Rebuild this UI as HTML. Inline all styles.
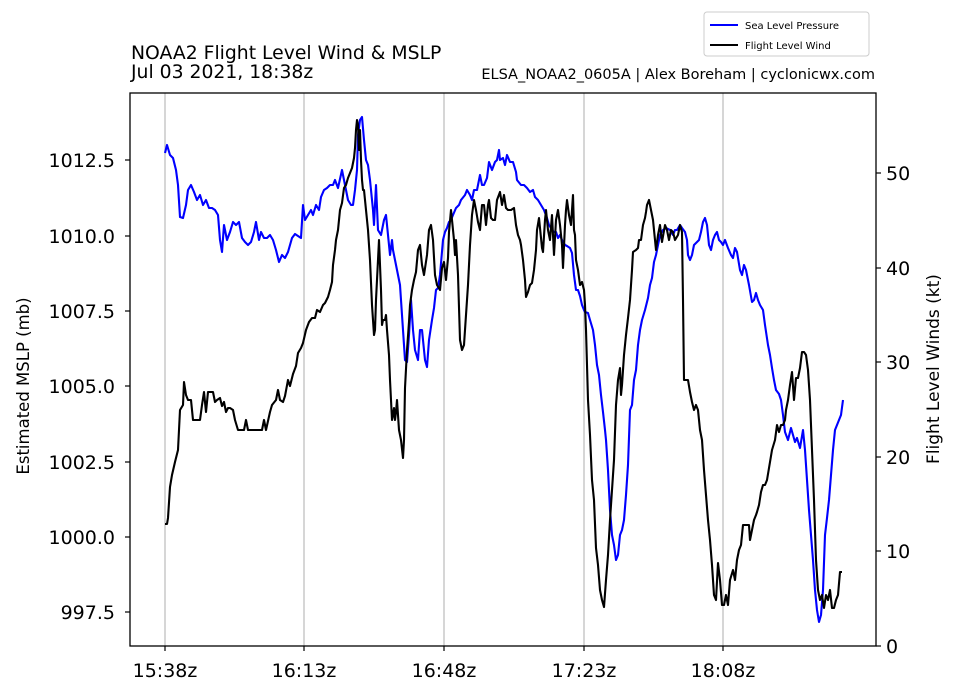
<!DOCTYPE html>
<html><head><meta charset="utf-8"><style>
html,body{margin:0;padding:0;background:#fff;}
svg{display:block;font-family:"DejaVu Sans","Liberation Sans",sans-serif;}
</style></head><body>
<svg width="959" height="697" viewBox="0 0 959 697" xmlns="http://www.w3.org/2000/svg">
<rect width="959" height="697" fill="#fff"/>
<g stroke="#bfbfbf" stroke-width="1.3">
<line x1="165" y1="93" x2="165" y2="646"/>
<line x1="304" y1="93" x2="304" y2="646"/>
<line x1="444" y1="93" x2="444" y2="646"/>
<line x1="584" y1="93" x2="584" y2="646"/>
<line x1="723" y1="93" x2="723" y2="646"/>
</g>
<polyline fill="none" stroke="#0000ff" stroke-width="2.1" stroke-linejoin="round" points="165,153 167,145 170,155 173,158 176,170 178,185 180,217 183,218 186,205 188,190 191,185 194,192 197,200 200,195 203,205 206,200 209,208 212,208 215,210 218,215 220,240 222,252 224,225 227,240 230,232 233,222 236,225 239,222 242,238 245,242 248,245 251,242 254,232 256,222 259,240 261,232 264,238 267,238 270,235 273,240 276,250 279,262 282,255 285,258 288,252 292,238 295,234 298,236 301,238 303,205 305,220 308,215 311,210 313,215 316,205 319,210 321,197 324,190 327,188 330,185 333,185 335,180 338,188 342,170 345,185 348,200 351,205 353,205 355,190 357,170 358,135 360,120 362,117 364,140 366,160 368,165 370,180 373,210 374,225 376,185 378,230 381,235 384,220 386,215 388,235 390,255 392,240 393,250 395,260 397,270 400,285 401,300 403,330 405,360 407,362 409,335 411,300 413,330 415,350 418,360 420,330 422,330 425,360 427,367 429,340 432,320 434,308 436,290 438,288 440,275 443,240 445,232 447,228 449,222 451,220 453,215 456,208 459,205 461,200 465,195 467,190 470,195 472,200 474,190 477,190 480,175 482,185 484,185 487,178 489,162 492,170 495,162 497,160 499,150 500,160 503,158 505,165 507,155 510,162 513,162 516,172 517,180 521,185 524,185 527,188 530,192 533,190 535,197 538,200 541,205 544,210 547,218 549,225 551,228 552,230 554,232 556,232 558,238 560,235 562,240 565,245 567,246 570,248 572,253 574,275 576,290 578,290 580,296 582,305 584,310 585,312 588,313 590,320 593,330 595,345 597,365 599,375 601,395 603,412 605,430 606,440 608,470 610,510 612,535 614,545 616,560 618,555 620,535 622,530 624,520 626,495 628,465 630,410 632,405 634,380 636,370 638,345 640,330 642,320 645,310 648,298 650,285 652,278 654,262 656,255 658,245 660,235 663,230 666,228 670,230 673,235 675,230 677,230 680,225 682,228 685,232 687,240 688,255 690,260 692,255 694,245 697,242 699,240 701,232 703,222 705,218 707,225 709,245 711,250 713,240 715,235 717,232 719,240 721,242 723,245 725,240 728,248 731,255 733,258 735,248 737,252 740,270 742,275 744,265 746,270 749,285 752,302 754,300 756,293 758,300 760,305 763,310 765,325 768,345 770,355 772,368 774,380 776,390 779,394 781,400 783,415 785,432 788,440 791,428 793,435 795,442 797,438 800,448 803,430 805,450 807,480 809,510 811,535 813,560 815,590 817,610 819,622 821,615 823,590 825,535 827,518 829,500 831,475 833,450 835,430 837,425 839,420 841,415 843,400"/>
<polyline fill="none" stroke="#000" stroke-width="2.1" stroke-linejoin="round" points="165,524 167,524 168,518 170,487 172,475 175,462 178,450 180,410 183,405 184,382 186,395 188,400 191,400 193,420 198,420 200,420 202,405 204,392 206,412 208,392 210,392 213,392 215,402 217,400 220,398 222,406 224,402 226,412 228,408 230,408 233,410 235,420 238,430 241,430 244,430 246,420 248,430 253,430 258,430 262,430 264,420 266,430 270,412 272,405 276,400 278,390 280,400 283,402 285,396 288,380 290,386 293,374 296,366 298,353 301,348 303,343 306,330 309,322 312,318 315,318 317,310 320,312 323,305 325,303 328,297 330,290 332,282 333,265 335,250 336,240 338,230 340,210 342,203 344,188 346,185 348,178 350,173 352,168 354,158 355,148 356,130 357,120 358,125 359,150 360,130 361,160 362,180 363,190 364,190 366,210 368,230 370,260 372,305 374,335 375,330 376,300 378,260 379,240 381,290 382,325 383,320 385,320 386,315 387,330 389,355 390,380 392,420 393,415 394,408 395,420 396,412 397,400 399,430 401,440 403,458 404,440 405,388 407,350 409,322 410,305 412,290 414,280 416,272 418,250 420,245 422,265 424,275 427,255 429,230 431,225 433,240 435,275 437,285 440,290 442,268 444,262 446,280 448,258 449,232 451,210 453,230 454,240 455,255 456,240 458,275 460,340 462,350 464,345 466,315 468,285 470,245 472,215 474,200 476,210 478,222 480,230 482,205 484,205 486,225 488,205 489,200 491,218 493,220 495,220 497,200 500,192 502,205 504,195 506,208 508,210 511,210 514,208 516,225 518,235 520,240 521,245 523,260 525,280 526,297 528,292 530,285 532,283 534,270 536,250 537,230 539,218 540,228 542,248 543,252 545,220 546,210 548,230 550,240 552,215 554,255 556,220 558,210 560,225 562,245 563,268 565,225 566,210 567,200 569,215 571,225 573,195 574,230 575,235 576,260 578,270 580,285 582,282 584,290 585,305 586,330 588,400 590,435 592,480 594,500 596,548 598,565 600,590 602,600 604,607 606,580 608,555 610,520 612,490 614,460 616,405 618,380 620,368 621,395 622,385 624,355 626,335 628,318 630,300 632,270 633,252 636,250 638,248 639,240 641,240 643,225 645,218 646,212 647,205 649,200 651,210 653,220 656,250 658,235 660,225 662,242 665,225 667,230 669,240 671,230 673,232 675,240 678,235 680,225 682,232 683,300 684,380 688,380 690,392 692,402 694,410 696,405 698,410 699,420 700,430 702,440 704,470 706,495 708,520 710,540 712,565 714,595 716,600 718,563 720,580 722,605 724,605 726,595 728,605 730,580 733,570 735,580 737,560 739,550 741,545 743,525 745,525 747,525 749,525 750,540 752,530 754,520 756,515 757,512 759,505 761,492 763,485 765,485 767,480 770,462 772,450 775,440 777,425 779,432 781,425 783,425 785,420 786,410 788,400 790,385 792,372 794,400 796,378 798,378 800,368 802,352 804,352 806,355 808,370 810,400 812,450 814,500 816,560 818,590 820,600 822,595 824,608 826,595 828,600 830,590 832,608 834,608 836,600 838,595 840,572 842,572"/>
<rect x="130" y="93" width="746" height="553" fill="none" stroke="#000" stroke-width="1.3"/>
<g stroke="#000" stroke-width="1.2">
<line x1="125" y1="160" x2="130" y2="160"/><line x1="125" y1="236" x2="130" y2="236"/><line x1="125" y1="311" x2="130" y2="311"/><line x1="125" y1="386" x2="130" y2="386"/><line x1="125" y1="462" x2="130" y2="462"/><line x1="125" y1="537" x2="130" y2="537"/><line x1="125" y1="612" x2="130" y2="612"/>
<line x1="876" y1="646" x2="881" y2="646"/><line x1="876" y1="551" x2="881" y2="551"/><line x1="876" y1="457" x2="881" y2="457"/><line x1="876" y1="362" x2="881" y2="362"/><line x1="876" y1="268" x2="881" y2="268"/><line x1="876" y1="173" x2="881" y2="173"/>
<line x1="165" y1="646" x2="165" y2="651"/><line x1="304" y1="646" x2="304" y2="651"/><line x1="444" y1="646" x2="444" y2="651"/><line x1="584" y1="646" x2="584" y2="651"/><line x1="723" y1="646" x2="723" y2="651"/>
</g>
<g font-size="19" fill="#000" text-anchor="end">
<text x="115" y="167">1012.5</text><text x="115" y="243">1010.0</text><text x="115" y="318">1007.5</text><text x="115" y="393">1005.0</text><text x="115" y="469">1002.5</text><text x="115" y="544">1000.0</text><text x="115" y="619">997.5</text>
</g>
<g font-size="19" fill="#000" text-anchor="start">
<text x="886" y="653">0</text><text x="886" y="558">10</text><text x="886" y="464">20</text><text x="886" y="369">30</text><text x="886" y="275">40</text><text x="886" y="180">50</text>
</g>
<g font-size="19" fill="#000" text-anchor="middle">
<text x="165" y="677">15:38z</text><text x="304" y="677">16:13z</text><text x="444" y="677">16:48z</text><text x="584" y="677">17:23z</text><text x="723" y="677">18:08z</text>
</g>
<text transform="translate(29,386) rotate(-90)" font-size="16.5" text-anchor="middle">Estimated MSLP (mb)</text>
<text transform="translate(939,369) rotate(-90)" font-size="17" text-anchor="middle">Flight Level Winds (kt)</text>
<text x="131" y="59" font-size="18.8">NOAA2 Flight Level Wind &amp; MSLP</text>
<text x="131" y="78" font-size="18.8">Jul 03 2021, 18:38z</text>
<text x="875" y="79" font-size="14.5" text-anchor="end">ELSA_NOAA2_0605A | Alex Boreham | cyclonicwx.com</text>
<rect x="704" y="12" width="165" height="44" rx="3" fill="#fff" stroke="#ccc" stroke-width="1"/>
<line x1="710" y1="25" x2="738" y2="25" stroke="#0000ff" stroke-width="2"/>
<line x1="710" y1="45" x2="738" y2="45" stroke="#000" stroke-width="2"/>
<text x="745" y="29" font-size="10">Sea Level Pressure</text>
<text x="745" y="49" font-size="10">Flight Level Wind</text>
</svg>
</body></html>
